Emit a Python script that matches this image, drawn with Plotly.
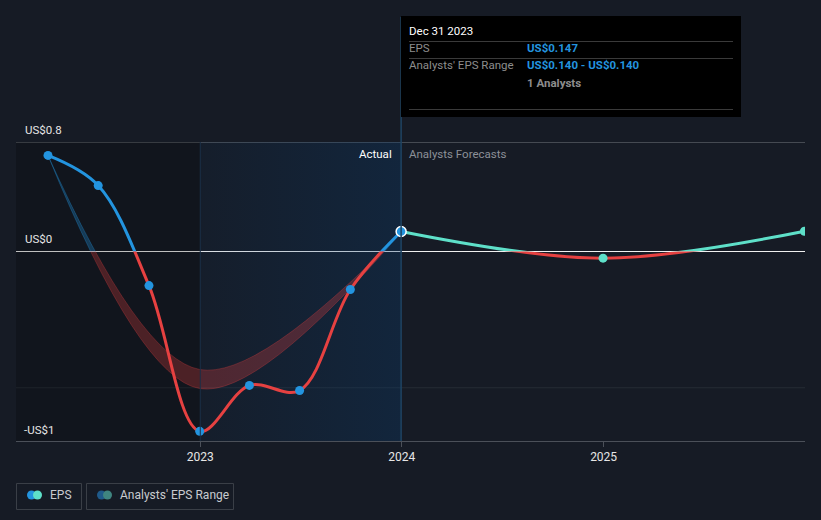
import plotly.graph_objects as go

# ---------------- data ----------------
eps_dates = ["2022-03-31", "2022-06-30", "2022-09-30", "2022-12-31",
             "2023-03-31", "2023-06-30", "2023-09-30", "2023-12-31"]
eps_values = [0.705, 0.484, -0.25, -1.32, -0.983, -1.02, -0.279, 0.147]

forecast_dates = ["2023-12-31", "2024-12-31", "2025-12-31"]
forecast_values = [0.147, -0.049, 0.149]

range_dates = ["2022-03-31", "2022-12-31", "2023-12-31"]
range_low = [0.705, -1.006, 0.140]
range_high = [0.705, -0.866, 0.140]
analyst_count = 1

x_tick_vals = ["2023-01-01", "2024-01-01", "2025-01-01"]
x_tick_labels = ["2023", "2024", "2025"]
y_label_vals = [0.8, 0.0, -1.0]
y_tick_labels = ["US$0.8", "US$0", "-US$1"]

highlight_date = "2023-12-31"
highlight_label = "Dec 31 2023"
actual_start = "2023-01-01"
actual_end = "2023-12-31"

# ---------------- style ----------------
W, H = 821, 520
L, R, T, B = 16, 805, 142, 441
BG = "#161b25"
BLUE = "#2394df"
RED = "#e64141"
TEAL = "#5ee0c9"
FONT = "Roboto, sans-serif"

x_range = ["2022-02-01", "2026-01-01"]
scale = 136.25                      # px per US$1
y_max = 0.8 + 0.5 / scale           # half-pixel offset keeps 1px lines crisp
y_min = y_max - (B - T) / scale
f0 = (0 - y_min) / (y_max - y_min)


def px(xp):
    return (xp - L) / (R - L)


def py(yp):
    return (B - yp) / (B - T)


fig = go.Figure()

# background regions (main axis)
fig.add_trace(go.Scatter(
    x=[x_range[0], actual_start, actual_start, x_range[0], x_range[0]],
    y=[y_min, y_min, y_max, y_max, y_min],
    fill="toself", fillcolor="rgba(0,0,0,0.2)", mode="none",
    hoverinfo="skip", showlegend=False, xaxis="x", yaxis="y"))
fig.add_trace(go.Scatter(
    x=[actual_start, actual_end, actual_end, actual_start, actual_start],
    y=[y_min, y_min, y_max, y_max, y_min],
    fill="toself", mode="none",
    fillgradient=dict(type="horizontal",
                      colorscale=[[0, "rgba(10,60,110,0.08)"],
                                  [1, "rgba(10,60,110,0.32)"]]),
    hoverinfo="skip", showlegend=False, xaxis="x", yaxis="y"))

# band + lines in split axes (y2 positive, y3 negative)
for yax, band_col, eps_col, fc_col in [("y2", "rgba(35,148,223,0.30)", BLUE, TEAL),
                                       ("y3", "rgba(230,65,65,0.28)", RED, RED)]:
    fig.add_trace(go.Scatter(
        x=range_dates, y=range_high, mode="lines",
        line=dict(color=band_col, width=1, shape="spline", simplify=False),
        hoverinfo="skip", showlegend=False, xaxis="x", yaxis=yax))
    fig.add_trace(go.Scatter(
        x=range_dates, y=range_low, mode="lines", fill="tonexty", fillcolor=band_col,
        line=dict(color=band_col, width=1, shape="spline", simplify=False),
        hoverinfo="skip", showlegend=False, xaxis="x", yaxis=yax))
    fig.add_trace(go.Scatter(
        x=eps_dates, y=eps_values, mode="lines",
        line=dict(color=eps_col, width=3, shape="spline", simplify=False),
        hoverinfo="skip", showlegend=False, xaxis="x", yaxis=yax))
    fig.add_trace(go.Scatter(
        x=forecast_dates, y=forecast_values, mode="lines",
        line=dict(color=fc_col, width=3, shape="spline", simplify=False),
        hoverinfo="skip", showlegend=False, xaxis="x", yaxis=yax))

# markers (top axis)
fig.add_trace(go.Scatter(
    x=eps_dates[:-1], y=eps_values[:-1], mode="markers",
    marker=dict(color=BLUE, size=9), hoverinfo="skip", showlegend=False,
    xaxis="x", yaxis="y4"))
fig.add_trace(go.Scatter(
    x=forecast_dates[1:], y=forecast_values[1:], mode="markers",
    marker=dict(color=TEAL, size=9), hoverinfo="skip", showlegend=False,
    xaxis="x", yaxis="y4"))
fig.add_trace(go.Scatter(
    x=[eps_dates[-1]], y=[eps_values[-1]], mode="markers",
    marker=dict(color=BLUE, size=10, line=dict(color="white", width=1.5)),
    hoverinfo="skip", showlegend=False, xaxis="x", yaxis="y4"))

shapes = []
# gridlines
grid_cols = {0.8: "#454a52", 0.0: "#f0f0f0", -1.0: "#262c35"}
for v in y_label_vals:
    shapes.append(dict(type="line", xref="paper", x0=0, x1=1, yref="y", y0=v, y1=v,
                       line=dict(color=grid_cols[v], width=1), layer="below"))
# vertical lines
shapes.append(dict(type="line", xref="x", x0=actual_start, x1=actual_start,
                   yref="paper", y0=0, y1=1, line=dict(color="#1b3048", width=1)))
shapes.append(dict(type="line", xref="x", x0=highlight_date, x1=highlight_date,
                   yref="paper", y0=0, y1=py(17), line=dict(color="#1e4463", width=1.5)))
# tooltip
shapes.append(dict(type="rect", xref="paper", yref="paper",
                   x0=px(401), x1=px(741), y0=py(117), y1=py(16),
                   fillcolor="#000000", line=dict(width=0)))
for yy in [41.5, 58.5, 109.5]:
    shapes.append(dict(type="line", xref="paper", yref="paper",
                       x0=px(409), x1=px(733), y0=py(yy), y1=py(yy),
                       line=dict(color="#3a3a3a", width=1)))
# legend boxes
for x0, x1 in [(16.5, 81.5), (86.5, 233.5)]:
    shapes.append(dict(type="rect", xref="paper", yref="paper",
                       x0=px(x0), x1=px(x1), y0=py(509.5), y1=py(483.5),
                       line=dict(color="#3a3f47", width=1), fillcolor="rgba(0,0,0,0)"))
for cx, col in [(31.5, BLUE), (37.5, TEAL), (101.5, "#1f5a8a"), (107.5, "#3f8580")]:
    shapes.append(dict(type="circle", xref="paper", yref="paper",
                       xsizemode="pixel", ysizemode="pixel",
                       xanchor=px(cx), yanchor=py(495),
                       x0=-4.5, x1=4.5, y0=-4.5, y1=4.5,
                       fillcolor=col, line=dict(width=0)))

ann = []


def text(x, y, s, color, size=12, anchor="left", bold=False):
    if bold:
        s = "<b>" + s + "</b>"
    ann.append(dict(x=px(x), y=py(y), xref="paper", yref="paper", text=s,
                    showarrow=False, xanchor=anchor, yanchor="middle",
                    font=dict(family=FONT, size=size, color=color)))


# y labels
text(23, 130, y_tick_labels[0], "#e6e6e6", 11.5)
text(23, 239, y_tick_labels[1], "#e6e6e6", 11.5)
text(22, 430, y_tick_labels[2], "#e6e6e6", 11.5)
# region labels
text(394, 154, "Actual", "#ffffff", 11.5, anchor="right")
text(407, 154, "Analysts Forecasts", "#8c9098", 11.5)
# tooltip
text(407, 31, highlight_label, "#ffffff", 11.5)
text(407, 48, "EPS", "#8d8d8d", 11.5)
text(525, 48, f"US${eps_values[-1]:.3f}", BLUE, 11.5, bold=True)
text(407, 65, "Analysts' EPS Range", "#8d8d8d", 11.5)
text(525, 65, f"US${range_low[-1]:.3f} - US${range_high[-1]:.3f}", BLUE, 11.5, bold=True)
text(525, 83, f"{analyst_count} Analysts", "#8d8d8d", 11.5, bold=True)
# legend
text(48, 495, "EPS", "#c9cbd0", 12)
text(118, 495, "Analysts' EPS Range", "#c9cbd0", 12)

ax_hidden = dict(visible=False, showgrid=False, zeroline=False, anchor="x", fixedrange=True)
fig.update_layout(
    width=W, height=H,
    margin=dict(l=L, r=W - R, t=T, b=H - B),
    paper_bgcolor=BG, plot_bgcolor="rgba(0,0,0,0)",
    showlegend=False,
    font=dict(family=FONT, color="#e6e6e6"),
    xaxis=dict(type="date", range=x_range, domain=[0, 1], anchor="y",
               tickvals=x_tick_vals, ticktext=x_tick_labels,
               ticks="outside", ticklen=5, tickcolor="#4b5059",
               showline=True, linecolor="#4b5059", linewidth=1,
               showgrid=False, zeroline=False,
               tickfont=dict(family=FONT, size=12, color="#e6e6e6")),
    yaxis=dict(range=[y_min, y_max], domain=[0, 1], **ax_hidden),
    yaxis2=dict(range=[0, y_max], domain=[f0, 1], **ax_hidden),
    yaxis3=dict(range=[y_min, 0], domain=[0, f0], **ax_hidden),
    yaxis4=dict(range=[y_min, y_max], domain=[0, 1], **ax_hidden),
    shapes=shapes,
    annotations=ann,
)

fig.write_html(
    "out.html",
    config={"displayModeBar": False},
    post_script=("document.body.style.margin='0';"
                 "document.body.style.overflow='hidden';"
                 "document.body.style.background='" + BG + "';"),
)
